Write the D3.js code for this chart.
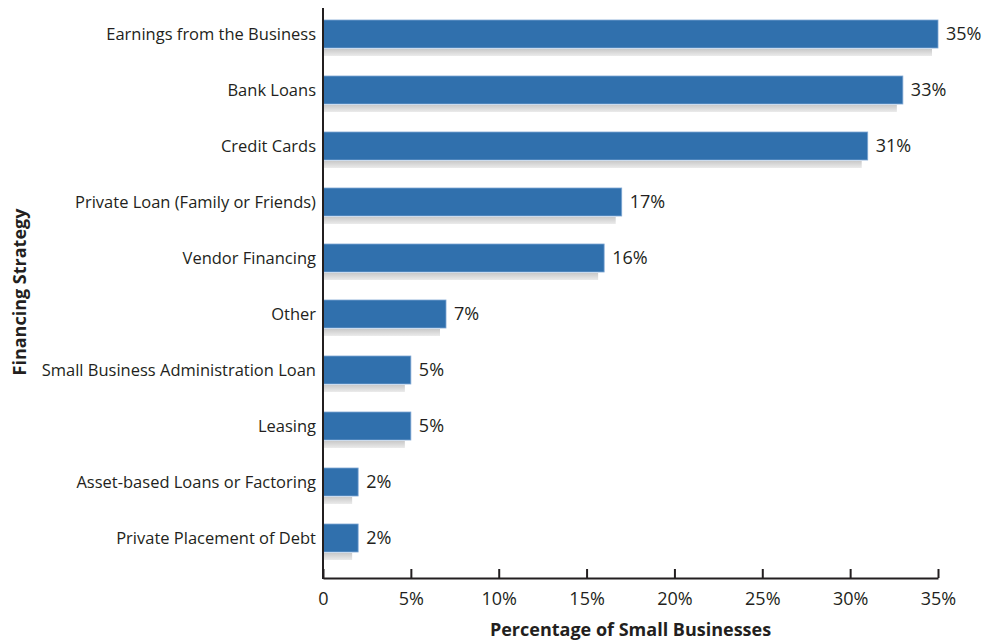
<!DOCTYPE html>
<html>
<head>
<meta charset="utf-8">
<script src="https://cdn.jsdelivr.net/npm/d3@7"></script>
<style>
  html, body { margin: 0; padding: 0; background: #fff; }
  svg text { font-family: "Open Sans", "Noto Sans", sans-serif; fill: #231f20; }
</style>
</head>
<body>
<svg id="chart" width="983" height="640"></svg>
<script>
// Financing strategies used by small businesses
const categories = [
  "Earnings from the Business",
  "Bank Loans",
  "Credit Cards",
  "Private Loan (Family or Friends)",
  "Vendor Financing",
  "Other",
  "Small Business Administration Loan",
  "Leasing",
  "Asset-based Loans or Factoring",
  "Private Placement of Debt"
];
const values = [35, 33, 31, 17, 16, 7, 5, 5, 2, 2];
const tickValues = [0, 5, 10, 15, 20, 25, 30, 35];
const xTitle = "Percentage of Small Businesses";
const yTitle = "Financing Strategy";

const svg = d3.select("#chart");
const plotLeft = 323, plotRight = 938, plotTop = 6, plotBottom = 566, axisY = 578;

const x = d3.scaleLinear().domain([0, 35]).range([plotLeft, plotRight]);
const y = d3.scaleBand().domain(categories).range([plotTop, plotBottom])
  .paddingInner(0.5).paddingOuter(0.25);

const data = categories.map((c, i) => ({ c, v: values[i] }));

// soft grey shadow under each bar
const defs = svg.append("defs");
const grad = defs.append("linearGradient").attr("id", "shadowGrad")
  .attr("x1", 0).attr("y1", 0).attr("x2", 0).attr("y2", 1);
grad.append("stop").attr("offset", "0%").attr("stop-color", "#c9c9c9");
grad.append("stop").attr("offset", "100%").attr("stop-color", "#ebebeb");

svg.append("g").selectAll("rect").data(data).join("rect")
  .attr("x", x(0) + 1)
  .attr("y", d => y(d.c) + y.bandwidth() + 1)
  .attr("width", d => Math.max(0, x(d.v) - x(0) - 7))
  .attr("height", 7)
  .attr("fill", "url(#shadowGrad)");

// bars
svg.append("g").selectAll("rect").data(data).join("rect")
  .attr("x", x(0))
  .attr("y", d => y(d.c))
  .attr("width", d => x(d.v) - x(0))
  .attr("height", y.bandwidth())
  .attr("fill", "#3070ad")
  .attr("stroke", "#7ea6d2")
  .attr("stroke-width", 0.8);

// value labels
svg.append("g").selectAll("text").data(data).join("text")
  .attr("x", d => x(d.v) + 8)
  .attr("y", d => y(d.c) + y.bandwidth() / 2)
  .attr("dy", "0.35em")
  .attr("font-size", 18)
  .text(d => d.v + "%");

// category labels, set slightly condensed
svg.append("g").selectAll("text").data(data).join("text")
  .attr("x", plotLeft - 7)
  .attr("y", d => y(d.c) + y.bandwidth() / 2)
  .attr("dy", "0.35em")
  .attr("text-anchor", "end")
  .attr("font-size", 17)
  .text(d => d.c)
  .each(function () {
    const w = this.getComputedTextLength();
    d3.select(this).attr("textLength", w * 0.97).attr("lengthAdjust", "spacingAndGlyphs");
  });

// x axis
const xAxis = d3.axisBottom(x)
  .tickValues(tickValues)
  .tickSize(-9)
  .tickSizeOuter(0)
  .tickPadding(14)
  .tickFormat(d => d === 0 ? "0" : d + "%");
const gx = svg.append("g").attr("transform", `translate(0,${axisY})`).call(xAxis);
gx.select(".domain").attr("stroke", "#231f20").attr("stroke-width", 2);
gx.selectAll(".tick line").attr("stroke", "#231f20").attr("stroke-width", 2);
gx.selectAll(".tick text").attr("font-size", 18)
  .attr("font-family", "Open Sans, Noto Sans, sans-serif")
  .attr("fill", "#231f20");

// y axis line
svg.append("line")
  .attr("x1", plotLeft).attr("x2", plotLeft)
  .attr("y1", 8).attr("y2", axisY + 1)
  .attr("stroke", "#231f20").attr("stroke-width", 2);

// axis titles
svg.append("text")
  .attr("x", (plotLeft + plotRight) / 2)
  .attr("y", 636)
  .attr("text-anchor", "middle")
  .attr("font-size", 18)
  .attr("font-weight", "bold")
  .text(xTitle);

svg.append("text")
  .attr("transform", "translate(26,292) rotate(-90)")
  .attr("text-anchor", "middle")
  .attr("font-size", 18)
  .attr("font-weight", "bold")
  .text(yTitle);
</script>
</body>
</html>
